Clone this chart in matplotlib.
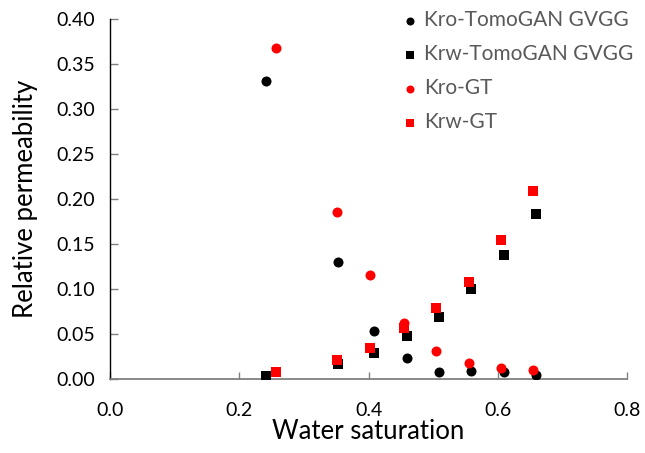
import matplotlib
matplotlib.use("Agg")
import matplotlib.pyplot as plt

plt.rcParams['font.family'] = ['Lato', 'DejaVu Sans']

# Data
sw_tomo = [0.241, 0.353, 0.408, 0.459, 0.509, 0.559, 0.609, 0.659]
kro_tomo = [0.331, 0.130, 0.053, 0.023, 0.008, 0.009, 0.008, 0.004]
krw_tomo = [0.003, 0.016, 0.029, 0.047, 0.069, 0.100, 0.138, 0.183]

sw_gt = [0.257, 0.351, 0.403, 0.455, 0.505, 0.555, 0.605, 0.655]
kro_gt = [0.368, 0.185, 0.115, 0.062, 0.031, 0.018, 0.012, 0.010]
krw_gt = [0.008, 0.021, 0.034, 0.056, 0.079, 0.108, 0.154, 0.209]

labels = ["Kro-TomoGAN GVGG", "Krw-TomoGAN GVGG", "Kro-GT", "Krw-GT"]
xticks = [0.0, 0.2, 0.4, 0.6, 0.8]
yticks = [0.00, 0.05, 0.10, 0.15, 0.20, 0.25, 0.30, 0.35, 0.40]

fig = plt.figure(figsize=(6.45, 4.53), dpi=100)
ax = fig.add_axes([110/645, 1-378.7/453, (627-110)/645, (378.7-19.3)/453])

ax.scatter(sw_tomo, kro_tomo, marker='o', s=52, color='black', label=labels[0], zorder=3, linewidths=0)
ax.scatter(sw_tomo, krw_tomo, marker='s', s=45, color='black', label=labels[1], zorder=3, linewidths=0)
ax.scatter(sw_gt, kro_gt, marker='o', s=52, color='#ff0000', label=labels[2], zorder=4, linewidths=0)
ax.scatter(sw_gt, krw_gt, marker='s', s=45, color='#ff0000', label=labels[3], zorder=4, linewidths=0)

ax.set_xlim(0, 0.8)
ax.set_ylim(0, 0.4)
ax.set_xticks(xticks)
ax.set_xticklabels([f"{v:.1f}" for v in xticks])
ax.set_yticks(yticks)
ax.set_yticklabels([f"{v:.2f}" for v in yticks])

for s in ['top', 'right']:
    ax.spines[s].set_visible(False)
ax.spines['left'].set_color('black')
ax.spines['left'].set_linewidth(1.0)
ax.spines['bottom'].set_color('#808080')
ax.spines['bottom'].set_linewidth(1.3)

ax.tick_params(axis='x', direction='in', length=5, width=1, color='#808080',
               labelsize=14, pad=17, labelcolor='black')
ax.tick_params(axis='y', direction='in', length=6, width=1, color='#808080',
               labelsize=14, pad=11, labelcolor='black')

ax.set_xlabel("Water saturation", fontsize=18.5, labelpad=0)
ax.set_ylabel("Relative permeability", fontsize=18.5, labelpad=13)

leg = ax.legend(loc='upper left', bbox_to_anchor=(402/645, 1-10/453),
                bbox_transform=fig.transFigure, frameon=False,
                fontsize=15, handlelength=0.75, handletextpad=0.3,
                labelspacing=0.68, borderpad=0, borderaxespad=0,
                scatterpoints=1, markerscale=0.8)
for t in leg.get_texts():
    t.set_color('#595959')

fig.savefig("out.png", dpi=100)
